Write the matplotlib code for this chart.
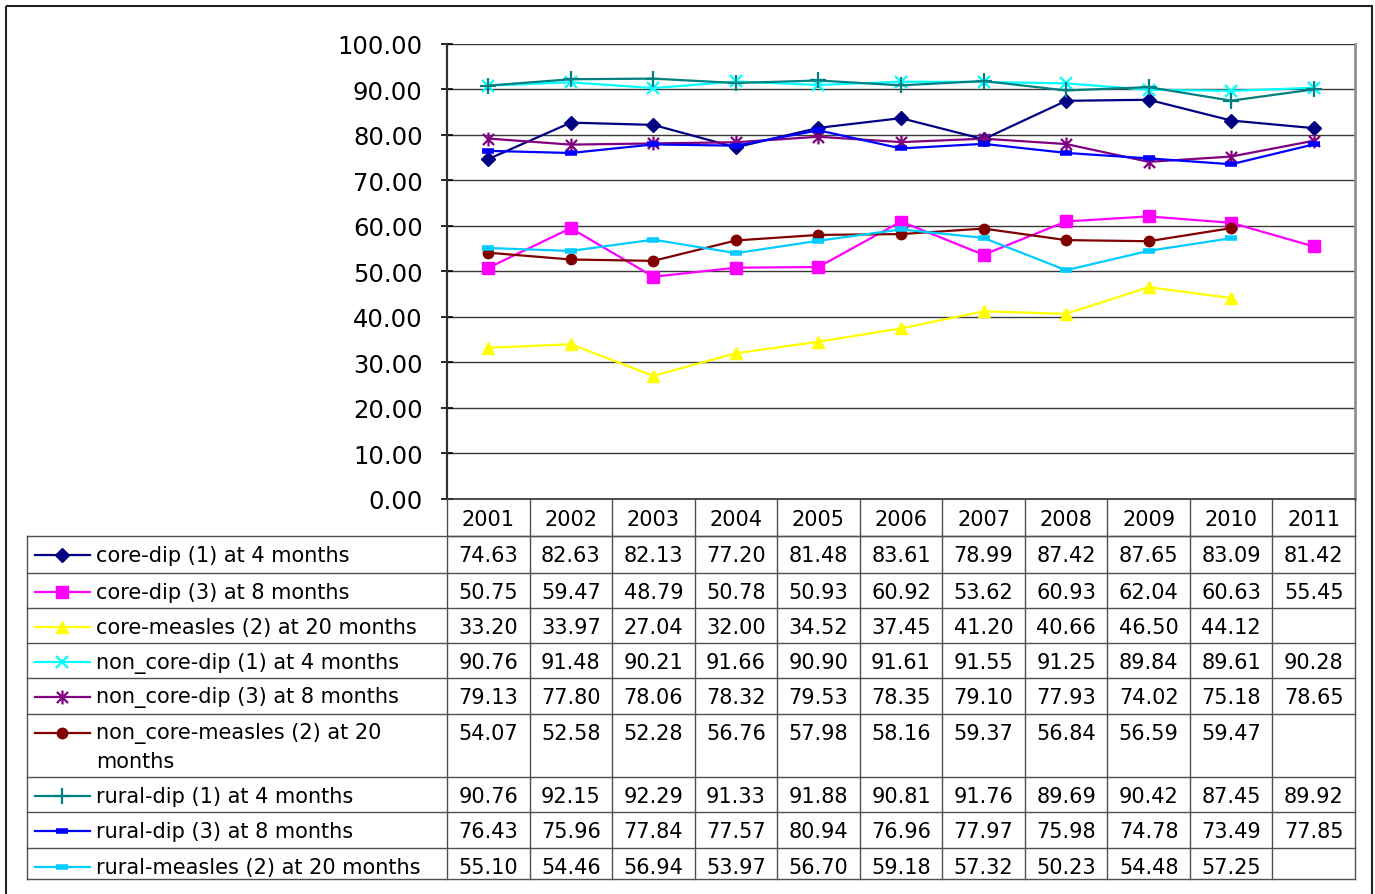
import numpy as np
import matplotlib
matplotlib.use("Agg")
import matplotlib.pyplot as plt
from matplotlib.path import Path
from matplotlib.patches import Rectangle

plt.rcParams['font.family'] = ['DejaVu Sans']

years = ["2001", "2002", "2003", "2004", "2005", "2006", "2007", "2008", "2009", "2010", "2011"]

series_names = [
    "core-dip (1) at 4 months",
    "core-dip (3) at 8 months",
    "core-measles (2) at 20 months",
    "non_core-dip (1) at 4 months",
    "non_core-dip (3) at 8 months",
    "non_core-measles (2) at 20\nmonths",
    "rural-dip (1) at 4 months",
    "rural-dip (3) at 8 months",
    "rural-measles (2) at 20 months",
]

core_dip1 = [74.63, 82.63, 82.13, 77.20, 81.48, 83.61, 78.99, 87.42, 87.65, 83.09, 81.42]
core_dip3 = [50.75, 59.47, 48.79, 50.78, 50.93, 60.92, 53.62, 60.93, 62.04, 60.63, 55.45]
core_measles2 = [33.20, 33.97, 27.04, 32.00, 34.52, 37.45, 41.20, 40.66, 46.50, 44.12, None]
non_core_dip1 = [90.76, 91.48, 90.21, 91.66, 90.90, 91.61, 91.55, 91.25, 89.84, 89.61, 90.28]
non_core_dip3 = [79.13, 77.80, 78.06, 78.32, 79.53, 78.35, 79.10, 77.93, 74.02, 75.18, 78.65]
non_core_measles2 = [54.07, 52.58, 52.28, 56.76, 57.98, 58.16, 59.37, 56.84, 56.59, 59.47, None]
rural_dip1 = [90.76, 92.15, 92.29, 91.33, 91.88, 90.81, 91.76, 89.69, 90.42, 87.45, 89.92]
rural_dip3 = [76.43, 75.96, 77.84, 77.57, 80.94, 76.96, 77.97, 75.98, 74.78, 73.49, 77.85]
rural_measles2 = [55.10, 54.46, 56.94, 53.97, 56.70, 59.18, 57.32, 50.23, 54.48, 57.25, None]

all_series = [core_dip1, core_dip3, core_measles2, non_core_dip1, non_core_dip3,
              non_core_measles2, rural_dip1, rural_dip3, rural_measles2]

y_ticks = [0, 10, 20, 30, 40, 50, 60, 70, 80, 90, 100]

# asterisk marker: vertical stroke plus an X
star_path = Path(
    [(0, -1), (0, 1), (-0.8, -0.8), (0.8, 0.8), (-0.8, 0.8), (0.8, -0.8)],
    [Path.MOVETO, Path.LINETO, Path.MOVETO, Path.LINETO, Path.MOVETO, Path.LINETO],
)

styles = [
    dict(color="#000080", marker="D", ms=7.5, mfc="#000080", mec="#000080"),
    dict(color="#FF00FF", marker="s", ms=8, mfc="#FF00FF", mec="#FF00FF"),
    dict(color="#FFFF00", marker="^", ms=9, mfc="#FFFF00", mec="#FFFF00"),
    dict(color="#00FFFF", marker="x", ms=9, mew=1.6, mec="#00FFFF"),
    dict(color="#800080", marker=star_path, ms=10, mew=1.6, mfc="none", mec="#800080"),
    dict(color="#800000", marker="o", ms=7.5, mfc="#800000", mec="#800000"),
    dict(color="#008080", marker="+", ms=11, mew=1.6, mec="#008080"),
    dict(color="#0000FF", marker="_", ms=8, mew=4, mec="#0000FF"),
    dict(color="#00CCFF", marker="_", ms=8, mew=4, mec="#00CCFF"),
]

W, H = 1375, 895
fig = plt.figure(figsize=(W / 100, H / 100), dpi=100)
fig.patch.set_facecolor("white")

# plot area geometry in pixels
px_left, px_right = 447, 1355
px_top, px_bottom = 44.5, 500

ax = fig.add_axes([px_left / W, 1 - px_bottom / H,
                   (px_right - px_left) / W, (px_bottom - px_top) / H])
ax.set_facecolor("white")
x = np.arange(1, len(years) + 1)
for vals, st in zip(all_series, styles):
    y = np.array([np.nan if v is None else v for v in vals], dtype=float)
    ax.plot(x, y, lw=1.6, clip_on=False, zorder=3, **st)

ax.set_xlim(0.5, len(years) + 0.5)
ax.set_ylim(0, 100)
ax.set_yticks(y_ticks)
ax.set_yticklabels([f"{t:.2f}" for t in y_ticks], fontsize=17.5)
ax.set_xticks([])
ax.tick_params(axis="y", direction="inout", length=9, width=1.2, pad=13, colors="#000000")
ax.grid(axis="y", color="#3a3a3a", lw=1)
ax.set_axisbelow(True)
ax.spines["top"].set_visible(False)
ax.spines["left"].set_color("#303030")
ax.spines["left"].set_linewidth(1.6)
ax.spines["right"].set_color("#909090")
ax.spines["right"].set_linewidth(2)
ax.spines["bottom"].set_color("#303030")
ax.spines["bottom"].set_linewidth(1.2)

# overlay in pixel coordinates for the data table and outer frame
ov = fig.add_axes([0, 0, 1, 1], zorder=5)
ov.set_xlim(0, W)
ov.set_ylim(H, 0)
ov.axis("off")
ov.patch.set_alpha(0)

ov.add_patch(Rectangle((6, 7), 1366, 900, fill=False, ec="#202020", lw=1.5))

col_w = (px_right - px_left) / len(years)
col_edges = [px_left + i * col_w for i in range(len(years) + 1)]
header_top, header_bottom = 500, 537
row_edges = [537, 574, 609, 644, 679, 715, 778, 813, 849, 880]
tbl_left = 27
line_c = "#505050"

# horizontal rules
ov.plot([px_left, px_right], [header_bottom, header_bottom], color=line_c, lw=1)
for yy in row_edges:
    ov.plot([tbl_left, px_right], [yy, yy], color=line_c, lw=1)
# vertical rules
for xx in col_edges:
    ov.plot([xx, xx], [header_top, row_edges[-1]], color=line_c, lw=1)
ov.plot([tbl_left, tbl_left], [row_edges[0], row_edges[-1]], color=line_c, lw=1)

txt_size = 15
for i, yr in enumerate(years):
    ov.text(col_edges[i] + col_w / 2, (header_top + header_bottom) / 2 + 1, yr,
            ha="center", va="center", fontsize=txt_size)

for r, (name, vals, st) in enumerate(zip(series_names, all_series, styles)):
    top = row_edges[r]
    yc = top + 19
    # legend key
    ov.plot([35, 90], [yc, yc], color=st["color"], lw=1.6)
    key = {k: v for k, v in st.items() if k != "color"}
    ov.plot([62], [yc], color=st["color"], **key)
    if "\n" in name:
        first, second = name.split("\n")
        ov.text(96, yc, first, ha="left", va="center", fontsize=txt_size)
        ov.text(96, yc + 28, second, ha="left", va="center", fontsize=txt_size)
    else:
        ov.text(96, yc, name, ha="left", va="center", fontsize=txt_size)
    for i, v in enumerate(vals):
        if v is None:
            continue
        ov.text(col_edges[i] + col_w / 2, yc, f"{v:.2f}",
                ha="center", va="center", fontsize=txt_size)

fig.savefig("out.png", dpi=100, facecolor="white")
